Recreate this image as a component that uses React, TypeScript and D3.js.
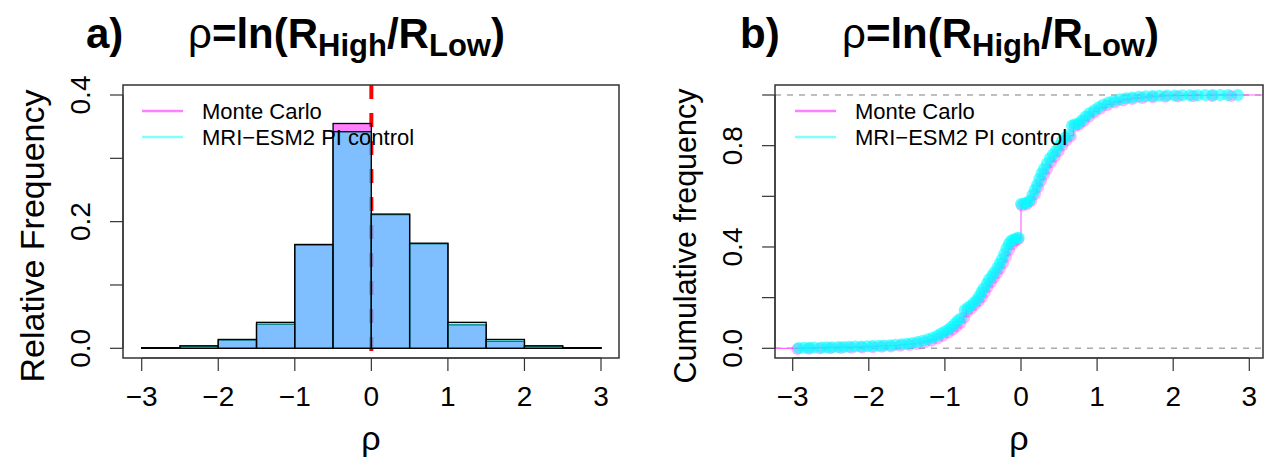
import React from "react";
import * as d3 from "d3";

// ---------- data ----------
const binEdges = [-3, -2.5, -2, -1.5, -1, -0.5, 0, 0.5, 1, 1.5, 2, 2.5, 3];
const mcFreq = [0.001, 0.003, 0.013, 0.038, 0.163, 0.355, 0.211, 0.165, 0.037, 0.011, 0.003, 0.001];
const mriFreq = [0.001, 0.004, 0.014, 0.041, 0.164, 0.342, 0.212, 0.166, 0.041, 0.014, 0.004, 0.001];

const xTicks = [-3, -2, -1, 0, 1, 2, 3];
const histYTicks = [0, 0.1, 0.2, 0.3, 0.4];
const histYLabels = [0, 0.2, 0.4];
const cdfYTicks = [0, 0.2, 0.4, 0.6, 0.8, 1.0];
const cdfYLabels = [0, 0.4, 0.8];

const legendLabels = ["Monte Carlo", "MRI\u2212ESM2 PI control"];

const mriX = [
  -2.92, -2.85, -2.78, -2.72, -2.62, -2.55, -2.48, -2.4, -2.33, -2.26, -2.18, -2.1, -2.02, -1.95, -1.87, -1.8,
  -1.72, -1.65, -1.57, -1.5, -1.43, -1.36, -1.29, -1.22, -1.16, -1.1, -1.05, -1.0, -0.95, -0.91, -0.87, -0.83,
  -0.79, -0.74, -0.7, -0.66, -0.62, -0.58, -0.55, -0.52, -0.49, -0.45, -0.42, -0.38, -0.35, -0.31, -0.28, -0.25,
  -0.22, -0.19, -0.16, -0.13, -0.1, -0.06, -0.03, 0.0, 0.04, 0.08, 0.11, 0.15, 0.18, 0.21, 0.24, 0.27, 0.3,
  0.34, 0.38, 0.42, 0.46, 0.5, 0.54, 0.58, 0.63, 0.67, 0.71, 0.76, 0.8, 0.85, 0.9, 0.96, 1.02, 1.08, 1.15,
  1.22, 1.3, 1.38, 1.46, 1.55, 1.64, 1.73, 1.82, 1.92, 2.02, 2.12, 2.22, 2.32, 2.42, 2.52, 2.62, 2.72, 2.85,
];
const mriY = [
  0.001, 0.002, 0.002, 0.003, 0.003, 0.004, 0.004, 0.005, 0.005, 0.006, 0.007, 0.007, 0.008, 0.009, 0.01, 0.011,
  0.012, 0.014, 0.016, 0.018, 0.021, 0.025, 0.03, 0.036, 0.042, 0.05, 0.058, 0.066, 0.075, 0.085, 0.097, 0.11,
  0.118, 0.15, 0.16, 0.168, 0.18, 0.192, 0.205, 0.222, 0.236, 0.255, 0.272, 0.286, 0.3, 0.318, 0.335, 0.352,
  0.372, 0.395, 0.413, 0.425, 0.43, 0.434, 0.436, 0.57, 0.572, 0.575, 0.582, 0.605, 0.625, 0.645, 0.668, 0.69,
  0.708, 0.73, 0.75, 0.765, 0.78, 0.8, 0.818, 0.832, 0.842, 0.88, 0.885, 0.888, 0.9, 0.915, 0.928, 0.94, 0.952,
  0.962, 0.97, 0.977, 0.983, 0.987, 0.99, 0.993, 0.995, 0.996, 0.997, 0.998, 0.998, 0.999, 0.999, 0.999, 1.0,
  1.0, 1.0, 1.0, 1.0,
];

const mcX = [
  -2.95, -2.8, -2.66, -2.52, -2.38, -2.24, -2.1, -1.96, -1.84, -1.72, -1.6, -1.48, -1.38, -1.28, -1.19, -1.11,
  -1.04, -0.97, -0.91, -0.86, -0.81, -0.76, -0.72, -0.67, -0.62, -0.57, -0.53, -0.49, -0.45, -0.41, -0.37, -0.33,
  -0.29, -0.25, -0.21, -0.17, -0.13, -0.09, -0.05, 0.0, 0.06, 0.12, 0.17, 0.21, 0.25, 0.29, 0.33, 0.38, 0.43,
  0.48, 0.53, 0.58, 0.64, 0.69, 0.75, 0.81, 0.88, 0.95, 1.03, 1.12, 1.22, 1.33, 1.45, 1.58, 1.72, 1.88, 2.05,
  2.25, 2.5, 2.75,
];
const mcY = [
  0.001, 0.002, 0.003, 0.004, 0.005, 0.006, 0.007, 0.008, 0.01, 0.011, 0.014, 0.017, 0.021, 0.027, 0.034, 0.043,
  0.053, 0.065, 0.077, 0.09, 0.104, 0.125, 0.148, 0.16, 0.175, 0.19, 0.205, 0.225, 0.246, 0.265, 0.282, 0.3,
  0.318, 0.34, 0.365, 0.392, 0.415, 0.428, 0.434, 0.568, 0.572, 0.585, 0.612, 0.64, 0.665, 0.69, 0.712, 0.738,
  0.76, 0.782, 0.805, 0.824, 0.84, 0.88, 0.886, 0.9, 0.918, 0.935, 0.95, 0.963, 0.974, 0.982, 0.988, 0.992,
  0.995, 0.997, 0.998, 0.999, 1.0, 1.0,
];

// ---------- styling ----------
const FONT = "'Liberation Sans', Arial, Helvetica, sans-serif";
const MC_FILL = "rgba(255,0,255,0.5)";
const MRI_FILL = "rgba(0,255,255,0.5)";
const MC_PT = "rgba(255,0,255,0.3)";
const MRI_PT = "rgba(0,255,255,0.6)";
const MC_LEG = "#ff80ff";
const MRI_LEG = "#80ffff";
const TICK_FS = 28;

type Box = { left: number; right: number; top: number; bottom: number };
const boxA: Box = { left: 123, right: 619, top: 85, bottom: 358 };
const boxB: Box = { left: 775, right: 1263, top: 85, bottom: 358 };

function Title({ x, y, tag }: { x: number; y: number; tag: string }) {
  return (
    <g fontFamily={FONT} fontSize={42} fill="#000">
      <text x={x} y={y} fontWeight="bold">{tag}</text>
      <text x={x + 102} y={y}>
        <tspan>ρ</tspan>
        <tspan fontWeight="bold">=ln(R</tspan>
        <tspan fontWeight="bold" fontSize={31} dy={8}>High</tspan>
        <tspan fontWeight="bold" dy={-8}>/R</tspan>
        <tspan fontWeight="bold" fontSize={31} dy={8}>Low</tspan>
        <tspan fontWeight="bold" dy={-8}>)</tspan>
      </text>
    </g>
  );
}

function Legend({ x }: { x: number }) {
  const ys = [111, 137];
  const cols = [MC_LEG, MRI_LEG];
  return (
    <g fontFamily={FONT} fontSize={22}>
      {legendLabels.map((l, i) => (
        <g key={l}>
          <line x1={x} x2={x + 41} y1={ys[i]} y2={ys[i]} stroke={cols[i]} strokeWidth={2.5} />
          <text x={x + 60} y={ys[i] + 8} fill="#000">{l}</text>
        </g>
      ))}
    </g>
  );
}

function XAxis({ box, x }: { box: Box; x: d3.ScaleLinear<number, number> }) {
  const y0 = box.bottom;
  return (
    <g fontFamily={FONT} fontSize={TICK_FS} fill="#000">
      <line x1={x(xTicks[0])} x2={x(xTicks[xTicks.length - 1])} y1={y0} y2={y0} stroke="#333" strokeWidth={1.2} />
      {xTicks.map((t) => (
        <g key={t}>
          <line x1={x(t)} x2={x(t)} y1={y0} y2={y0 + 13} stroke="#333" strokeWidth={1.2} />
          <text x={x(t)} y={406} textAnchor="middle">{t < 0 ? "\u2212" + Math.abs(t) : String(t)}</text>
        </g>
      ))}
      <text x={(box.left + box.right) / 2} y={450} textAnchor="middle" fontSize={34}>ρ</text>
    </g>
  );
}

function YAxis({ box, y, ticks, labels, title, titleFs }: { box: Box; y: d3.ScaleLinear<number, number>; ticks: number[]; labels: number[]; title: string; titleFs: number }) {
  const x0 = box.left;
  return (
    <g fontFamily={FONT} fontSize={TICK_FS} fill="#000">
      <line x1={x0} x2={x0} y1={y(ticks[0])} y2={y(ticks[ticks.length - 1])} stroke="#333" strokeWidth={1.2} />
      {ticks.map((t) => (
        <line key={t} x1={x0 - 13} x2={x0} y1={y(t)} y2={y(t)} stroke="#333" strokeWidth={1.2} />
      ))}
      {labels.map((t) => (
        <text key={t} transform={`translate(${x0 - 33},${y(t)}) rotate(-90)`} textAnchor="middle">{t.toFixed(1)}</text>
      ))}
      <text transform={`translate(${x0 - 79},236) rotate(-90)`} textAnchor="middle" fontSize={titleFs}>{title}</text>
    </g>
  );
}

function Histogram() {
  const box = boxA;
  const x = d3.scaleLinear().domain([-3, 3]).range([141.7, 601]);
  const y = d3.scaleLinear().domain([0, 0.4]).range([348.3, 95]);
  const bars = (freq: number[], fill: string, key: string) =>
    freq.map((f, i) => (
      <rect key={key + i} x={x(binEdges[i])} y={y(f)} width={x(binEdges[i + 1]) - x(binEdges[i])} height={y(0) - y(f)}
        fill={fill} stroke="#000" strokeWidth={1.3} />
    ));
  return (
    <g>
      <line x1={x(0)} x2={x(0)} y1={box.top} y2={box.bottom} stroke="#ff0000" strokeWidth={4} strokeDasharray="14 14" />
      {bars(mcFreq, MC_FILL, "mc")}
      {bars(mriFreq, MRI_FILL, "mri")}
      <rect x={box.left} y={box.top} width={box.right - box.left} height={box.bottom - box.top} fill="none" stroke="#333" strokeWidth={1.5} />
      <XAxis box={box} x={x} />
      <YAxis box={box} y={y} ticks={histYTicks} labels={histYLabels} title="Relative Frequency" titleFs={34} />
      <Legend x={142} />
      <Title x={86} y={48} tag="a)" />
    </g>
  );
}

function Ecdf() {
  const box = boxB;
  const x = d3.scaleLinear().domain([-3, 3]).range([792.7, 1249.3]);
  const y = d3.scaleLinear().domain([0, 1]).range([348.3, 95]);
  const mcPts = mcX.map((v, i) => [v, mcY[i]] as [number, number]);
  const stepPts: [number, number][] = [[-3.3, 0], ...mcPts, [3.3, 1]];
  const line = d3.line<[number, number]>().x((d) => x(d[0])).y((d) => y(d[1])).curve(d3.curveStepAfter);
  return (
    <g>
      <defs>
        <clipPath id="clipB">
          <rect x={box.left} y={box.top} width={box.right - box.left} height={box.bottom - box.top} />
        </clipPath>
      </defs>
      <g clipPath="url(#clipB)">
        {[0, 1].map((v) => (
          <line key={v} x1={box.left} x2={box.right} y1={y(v)} y2={y(v)} stroke="#aaa" strokeWidth={1.5} strokeDasharray="6 6" />
        ))}
        <path d={line(stepPts) || ""} fill="none" stroke="#ff66ff" strokeWidth={1.2} />
        {mcPts.map((d, i) => (
          <circle key={"m" + i} cx={x(d[0]) + 1} cy={y(d[1]) + 1} r={6} fill={MC_PT} />
        ))}
        {mriX.map((v, i) => (
          <circle key={"c" + i} cx={x(v)} cy={y(mriY[i])} r={6} fill={MRI_PT} />
        ))}
      </g>
      <rect x={box.left} y={box.top} width={box.right - box.left} height={box.bottom - box.top} fill="none" stroke="#333" strokeWidth={1.5} />
      <XAxis box={box} x={x} />
      <YAxis box={box} y={y} ticks={cdfYTicks} labels={cdfYLabels} title="Cumulative frequency" titleFs={30.5} />
      <Legend x={795} />
      <Title x={740} y={48} tag="b)" />
    </g>
  );
}

export default function App() {
  return (
    <svg width={1271} height={460} style={{ position: "absolute", left: 0, top: 0, background: "#fff" }}>
      <rect width={1271} height={460} fill="#fff" />
      <Histogram />
      <Ecdf />
    </svg>
  );
}
